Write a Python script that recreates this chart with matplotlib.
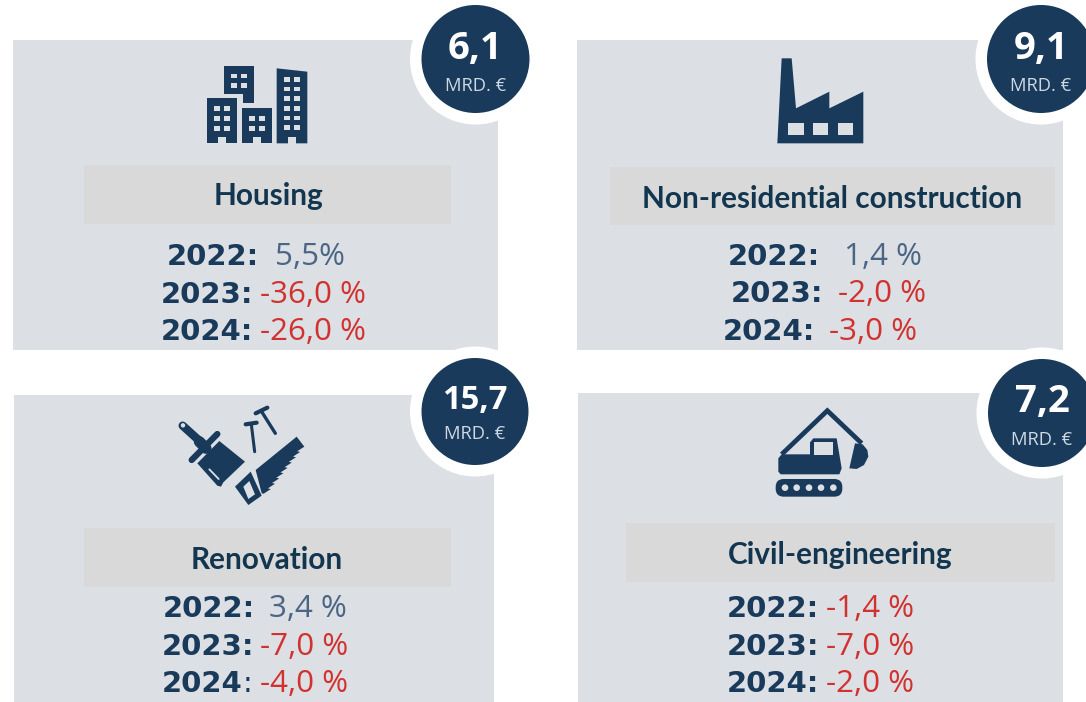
import matplotlib
matplotlib.use("Agg")
import matplotlib.pyplot as plt
from matplotlib.patches import Rectangle, Circle, Polygon, FancyBboxPatch

# ---------- data ----------
sectors = ["Housing", "Non-residential construction", "Renovation", "Civil-engineering"]
totals = ["6,1", "9,1", "15,7", "7,2"]
unit = "MRD. €"
years = ["2022", "2023", "2024"]
housing_growth = ["5,5%", "-36,0 %", "-26,0 %"]
nonres_growth = ["1,4 %", "-2,0 %", "-3,0 %"]
renovation_growth = ["3,4 %", "-7,0 %", "-4,0 %"]
civil_growth = ["-1,4 %", "-7,0 %", "-2,0 %"]
growth = [housing_growth, nonres_growth, renovation_growth, civil_growth]

# ---------- style / layout (pixels) ----------
W, H = 1086, 702
NAVY = "#193a5a"
PANEL = "#dcdfe4"
BAR = "#d9d9d9"
RED = "#d1322f"
SLATE = "#4b6584"
TITLE = "#12364f"

panels = [(13, 40, 498, 350), (577, 40, 1063, 350), (14, 395, 494, 702), (578, 393, 1063, 702)]
bars = [(84, 165, 451, 224), (610, 167, 1055, 225), (84, 528, 451, 587), (626, 523, 1055, 582)]
circles = [(475.5, 59, 54), (1041, 59, 54), (475, 411.5, 53.5), (1042, 413, 54)]
total_size = [27.5, 27.5, 23.5, 27.5]
total_dy = [-9.5, -9.5, -11, -11]
unit_dy = [27, 27, 22.5, 27]
title_xy = [(268, 196), (832, 199), (267, 560), (840, 555)]
row_y = [(257, 295, 332), (257, 294, 332), (609, 647, 684), (609, 647, 684)]
year_x = [(167, 161, 161), (728, 731, 723), (163, 162, 162), (727, 727, 727)]
val_x = [(275, 260, 260), (844, 838, 829), (269, 260, 260), (826, 826, 826)]

fig = plt.figure(figsize=(W / 100, H / 100), dpi=100, facecolor="white")
ax = fig.add_axes([0, 0, 1, 1])
ax.set_xlim(0, W)
ax.set_ylim(H, 0)
ax.axis("off")

for (x0, y0, x1, y1) in panels:
    ax.add_patch(Rectangle((x0, y0), x1 - x0, y1 - y0, fc=PANEL, ec="none", zorder=1))
for (x0, y0, x1, y1) in bars:
    ax.add_patch(Rectangle((x0, y0), x1 - x0, y1 - y0, fc=BAR, ec="none", zorder=2))

for i, (cx, cy, r) in enumerate(circles):
    ax.add_patch(Circle((cx, cy), r + 11.5, fc="white", ec="none", zorder=3))
    ax.add_patch(Circle((cx, cy), r, fc=NAVY, ec="none", zorder=4))
    ax.text(cx, cy + total_dy[i], totals[i], color="white", fontsize=total_size[i], family="Open Sans",
            fontweight="bold", ha="center", va="center", zorder=5)
    ax.text(cx, cy + unit_dy[i], unit, color="#cfd9e4", fontsize=13.2, family="Open Sans",
            ha="center", va="center", zorder=5)

for i, s in enumerate(sectors):
    ax.text(*title_xy[i], s, color=TITLE, fontsize=21.4, family="Lato", fontweight="bold",
            ha="center", va="center", zorder=5)
    for j, y in enumerate(years):
        yy = row_y[i][j]
        if i == 2 and j == 2:   # colon is not bold in this row of the source
            ax.text(year_x[i][j], yy, y, color=NAVY, fontsize=21, family="DejaVu Sans",
                    fontweight="bold", ha="left", va="center", zorder=5)
            ax.text(year_x[i][j] + 81, yy, ":", color=NAVY, fontsize=21, family="DejaVu Sans",
                    ha="left", va="center", zorder=5)
        else:
            ax.text(year_x[i][j], yy, y + ":", color=NAVY, fontsize=21, family="DejaVu Sans",
                    fontweight="bold", ha="left", va="center", zorder=5)
        v = growth[i][j]
        ax.text(val_x[i][j], yy, v, color=RED if v.startswith("-") else SLATE, fontsize=22.6,
                family="Open Sans", ha="left", va="center", zorder=5)


# ---------- icon helpers: shapes given in 3x-zoom units around an origin ----------
def mapper(ox, oy):
    return lambda pts: [(px / 3 + ox, py / 3 + oy) for px, py in pts]


def poly(m, pts, color=NAVY, z=6):
    ax.add_patch(Polygon(m(pts), closed=True, fc=color, ec="none", zorder=z))


def box(m, x0, y0, x1, y1, color=NAVY, z=6):
    poly(m, [(x0, y0), (x1, y0), (x1, y1), (x0, y1)], color, z)


def stroke(m, pts, lw, color=NAVY, z=6, cap="round"):
    p = m(pts)
    ax.plot([a for a, _ in p], [b for _, b in p], color=color, lw=lw, zorder=z,
            solid_capstyle=cap, solid_joinstyle="miter")


# Buildings
m = mapper(160, 0)
poly(m, [(193, 197), (283, 197), (283, 310), (248, 310), (248, 282), (193, 282)])
for xa in (214, 244):
    for ya in (221, 250):
        box(m, xa, ya, xa + 17, ya + 14, PANEL, 7)
box(m, 140, 295, 230, 430)
box(m, 246, 325, 336, 430)
poly(m, [(350, 205), (442, 215), (442, 430), (350, 430)])
for xa in (162, 192):
    for ya in (318, 348, 378):
        box(m, xa, ya, xa + 17, ya + 15, PANEL, 7)
for xa in (268, 297):
    for ya in (348, 378):
        box(m, xa, ya, xa + 17, ya + 15, PANEL, 7)
for xa in (372, 402):
    for ya in (231, 260, 289, 318, 347, 376):
        box(m, xa, ya, xa + 18, ya + 14, PANEL, 7)
for xa in (175, 280, 385):
    box(m, xa, 410, xa + 22, 431, PANEL, 7)

# Factory
m = mapper(740, 0)
poly(m, [(125, 175), (155, 175), (168, 325), (268, 275), (268, 325), (370, 275), (370, 430), (112, 430)])
for xa in (145, 218, 293):
    box(m, xa, 368, xa + 46, 405, PANEL, 7)

# Tools
m = mapper(160, 355)
stroke(m, [(68, 212), (130, 268)], 6)
stroke(m, [(118, 260), (138, 280)], 8)
cx, cy = m([(69, 211)])[0]
ax.add_patch(Circle((cx, cy), 2.2, fc=PANEL, ec="none", zorder=7))
stroke(m, [(95, 315), (172, 237)], 4.5)
poly(m, [(112, 325), (178, 258), (255, 320), (190, 382), (183, 395), (172, 392)])
stroke(m, [(148, 343), (176, 372)], 1.3, PANEL, 7)
stroke(m, [(257, 208), (290, 203)], 3)
stroke(m, [(274, 208), (284, 290)], 2.2)
stroke(m, [(287, 175), (322, 158)], 3)
stroke(m, [(305, 170), (346, 235)], 2.4)
teeth = [(433, 275)]
n_teeth = 9
for k in range(1, n_teeth + 1):
    t = k / n_teeth
    bx, by = 433 + (320 - 433) * t, 275 + (418 - 275) * t
    teeth.append((bx - 9, by - 2))
    teeth.append((bx, by))
poly(m, [(410, 245)] + teeth + [(305, 415), (287, 345)])
poly(m, [(225, 395), (272, 350), (305, 422), (265, 450)])
poly(m, [(250, 395), (268, 378), (285, 418), (265, 432)], PANEL, 7)

# Excavator
m = mapper(740, 355)
stroke(m, [(125, 298), (262, 167), (365, 265)], 3.4, cap="butt")
poly(m, [(115, 310), (125, 298), (210, 298), (210, 262), (220, 250), (290, 250), (305, 340),
         (298, 358), (122, 358), (115, 350)])
box(m, 222, 262, 278, 300, PANEL, 7)
poly(m, [(345, 265), (368, 268), (382, 285), (385, 305), (372, 330), (350, 342), (328, 340)])
x0, y0 = m([(107, 372)])[0]
x1, y1 = m([(307, 425)])[0]
ax.add_patch(FancyBboxPatch((x0 + 8, y0 + 8), x1 - x0 - 16, y1 - y0 - 16,
                            boxstyle="round,pad=8,rounding_size=8", fc=NAVY, ec="none", zorder=6))
for xa in (135, 170, 207, 243, 280):
    cx, cy = m([(xa, 398)])[0]
    ax.add_patch(Circle((cx, cy), 3.3, fc=PANEL, ec="none", zorder=7))

fig.savefig("out.png", dpi=100, facecolor="white")
